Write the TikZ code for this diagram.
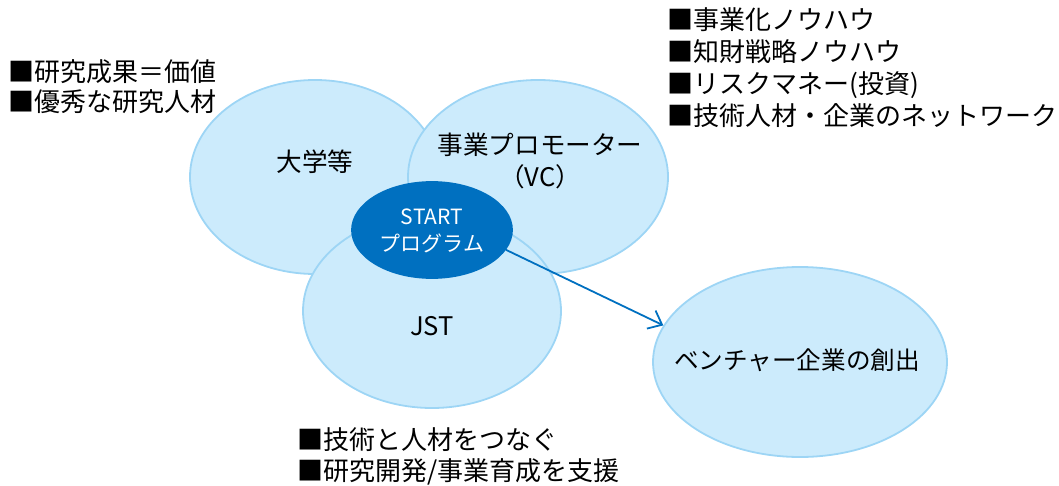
\documentclass[tikz,border=0pt]{standalone}
\usepackage{fontspec}
\setmainfont{Noto Sans CJK JP}
\usetikzlibrary{shapes.geometric,arrows.meta}
\definecolor{bubblefill}{RGB}{204,235,252}
\definecolor{bubbleline}{RGB}{157,213,245}
\definecolor{startblue}{RGB}{0,112,192}
\begin{document}
\begin{tikzpicture}[x=0.5pt,y=-0.5pt]
        \useasboundingbox (0,0) rectangle (1059,486);

        \begin{scope}[every node/.style={ellipse,draw=bubbleline,fill=bubblefill,line width=0.9pt,inner sep=0pt}]
          \node[minimum width=125pt,minimum height=97pt] (daigaku) at (315,177) {};
          \node[minimum width=130pt,minimum height=97pt] (vc)      at (538,177) {};
          \node[minimum width=129pt,minimum height=97pt] (jst)     at (432,311) {};
          \node[minimum width=147pt,minimum height=95pt] (venture) at (800,362) {};
          \node[minimum width=80pt,minimum height=48pt,draw=startblue,fill=startblue] (start) at (432,230) {};
        \end{scope}

        \begin{scope}[every node/.style={font=\fontsize{12.8}{16}\selectfont,inner sep=0pt}]
          \node (daigakutxt) at (315,162) {大学等};
          \node[align=center] (vctxt) at (540,161) {事業プロモーター\\（VC）};
          \node (jsttxt)     at (432,326) {JST};
          \node[font=\fontsize{12.3}{16}\selectfont] (venturetxt) at (797,360) {ベンチャー企業の創出};
          \node[align=center,text=white,font=\fontsize{10.5}{13.5}\selectfont] (starttxt) at (432,231) {START\\プログラム};
        \end{scope}

        \begin{scope}[every node/.style={anchor=west,align=left,inner sep=0pt}]
          \node[font=\fontsize{13}{15}\selectfont] (seeds) at (8,87)
            {■研究成果＝価値\\■優秀な研究人材};
          \node[font=\fontsize{13}{16}\selectfont] (knowhow) at (667,68)
            {■事業化ノウハウ\\■知財戦略ノウハウ\\■リスクマネー(投資)\\■技術人材・企業のネットワーク};
          \node[font=\fontsize{13}{15.5}\selectfont] (support) at (297,456)
            {■技術と人材をつなぐ\\■研究開発/事業育成を支援};
        \end{scope}

        \draw[startblue,line width=0.9pt,-{Straight Barb[length=6pt,width=10pt]}] (start.-15) -- (venture.165);

      \end{tikzpicture}
\end{document}
